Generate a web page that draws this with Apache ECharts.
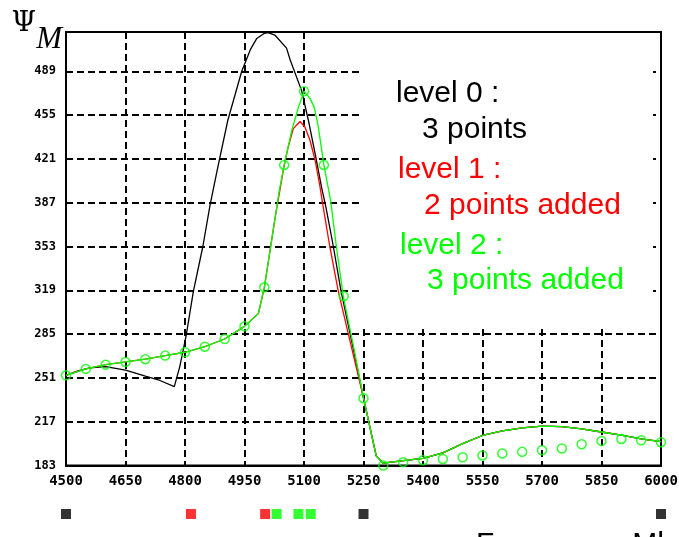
<!DOCTYPE html>
<html><head><meta charset="utf-8">
<script src="https://cdn.jsdelivr.net/npm/echarts@6/dist/echarts.min.js"></script>
<style>html,body{margin:0;padding:0;background:#fff}#c{width:679px;height:537px}</style>
</head><body><div id="c"></div>
<script>
// Axis ranges / ticks
const xMin = 4500, xMax = 6000, xStep = 150;
const yMin = 183, yMax = 519.5, yStep = 34;

// Level 0 (black) approximation, own part
const level0Head = [[4500,253],[4530,256.5],[4560,258.8],[4600,259.8],[4650,257],[4700,252.3],[4737,249],[4773,244.2],
  [4787,260],[4803,284],[4821,318],[4845,353],[4863,385],[4883,415],[4908,451],[4943,489],[4965,506],[4981,514.5],
  [5000,518.5],[5009,519],[5027,517],[5056,507],[5065,498],[5094,474],[5111,451],[5128,425],[5145,398],[5155,384],
  [5174,353],[5193,319],[5222,277]];
// Level 1 (red) approximation, own part
const level1Head = [[4500,253],[4550,258],[4600,261.3],[4650,263.4],[4700,265.5],[4750,268.3],[4800,270.9],[4850,275.2],
  [4900,281.2],[4950,291],[4985,301],[5000,321],[5027,375],[5050,416],[5060,430],[5073,444.5],[5090,450],[5102,446],
  [5115,435.5],[5128,420],[5140,400],[5145,390],[5165,353],[5186,319],[5218,277]];
// Level 2 (green) approximation, own part
const level2Head = [[4500,253],[4550,258],[4600,261.3],[4650,263.4],[4700,265.5],[4750,268.3],[4800,270.9],[4850,275.2],
  [4900,281.2],[4950,291],[4985,301],[5000,321.3],[5020,361],[5038,397],[5050,416.3],[5069,443],[5086,461],[5100,473.5],
  [5115,468],[5126,461],[5136,446],[5150,416.3],[5167,389],[5182,352],[5199,314.5],[5225,275]];
// Common tail of all three approximations
const sharedTail = [[5250,235.5],[5266,213],[5282,190.5],[5300,184.8],[5350,186.8],[5400,188.6],[5450,192.8],[5500,200],
  [5550,206.3],[5600,209.9],[5650,212.2],[5700,213.5],[5750,213.2],[5800,211.4],[5850,209],[5900,206.5],[5950,203.6],[6000,201.6]];
// Sampled function (green circles)
const sampleX = [4500,4550,4600,4650,4700,4750,4800,4850,4900,4950,5000,5050,5100,5150,5200,5250,5300,5350,5400,5450,5500,5550,5600,5650,5700,5750,5800,5850,5900,5950,6000];
const sampleY = [253,258,261.3,263.4,265.5,268.3,270.9,275.2,281.2,291,321.3,416.3,473.5,416.3,314.5,235.2,183,185.6,187.1,188.1,189.4,190.8,192.3,193.6,194.9,196.2,199.5,202.1,203.6,202.6,201.1];
// Knot positions for each level (squares below axis)
const level0Knots = [4500,5250,6000];
const level1Knots = [4815,5002];
const level2Knots = [5031,5086,5117];

const legendTexts = ['level 0 :', '3 points', 'level 1 :', '2 points added', 'level 2 :', '3 points added'];
const legendColors = ['#000000', '#000000', '#ff0000', '#ff0000', '#00ff00', '#00ff00'];

const chart = echarts.init(document.getElementById('c'));
const dash = {color:'#000', type:[7,4], width:2};
const lineSeries = (name, data, color) => ({
  name, type:'line', data, showSymbol:false, symbol:'none', smooth:false, z:3,
  lineStyle:{color, width:1.3}, itemStyle:{color}, animation:false
});
const knotSeries = (name, xs, color) => ({
  name, type:'scatter', xAxisIndex:1, yAxisIndex:1, data: xs.map(x=>[x,0]),
  symbol:'rect', symbolSize:10, itemStyle:{color}, animation:false
});

const legendY = [94, 130, 170, 206, 246, 281];
const legendX = [396, 422, 398, 424, 400, 427];
const tickFont = {color:'#000', fontFamily:'DejaVu Sans Mono', fontWeight:'bold'};

chart.setOption({
  animation:false,
  backgroundColor:'#fff',
  grid:[
    {left:66, right:18, top:32, bottom:71.5, show:true, borderColor:'#000', borderWidth:2,
     backgroundColor:'transparent', outerBoundsMode:'none', containLabel:false},
    {left:66, right:18, top:509, height:10, outerBoundsMode:'none', containLabel:false}
  ],
  xAxis:[
    {type:'value', gridIndex:0, min:xMin, max:xMax, interval:xStep,
     axisLine:{lineStyle:{color:'#000', width:2}}, axisTick:{show:false},
     axisLabel:Object.assign({fontSize:14, margin:9, formatter:v=>String(v)}, tickFont),
     splitLine:{show:true, lineStyle:dash},
     name:'Frequency, Mhz', nameLocation:'end', nameGap:-185,
     nameTextStyle:{fontFamily:'Liberation Sans', fontSize:30, color:'#000', align:'left', verticalAlign:'top', padding:[64,0,0,0]}
    },
    {type:'value', gridIndex:1, min:xMin, max:xMax, show:false}
  ],
  yAxis:[
    {type:'value', gridIndex:0, min:yMin, max:yMax, interval:yStep,
     axisLine:{show:true, lineStyle:{color:'#000', width:2}}, axisTick:{show:false},
     axisLabel:Object.assign({fontSize:12, margin:10, showMaxLabel:false, formatter:v=>String(v)}, tickFont),
     splitLine:{show:true, lineStyle:dash},
     name:'{a|Ψ}{b|M}', nameLocation:'end', nameGap:0,
     nameTextStyle:{align:'right', verticalAlign:'middle', padding:[0,4,0,0],
       rich:{
         a:{fontFamily:'DejaVu Serif', fontSize:28, color:'#000', verticalAlign:'top', lineHeight:46, padding:[1,0,0,0]},
         b:{fontFamily:'Liberation Serif', fontStyle:'italic', fontSize:31, color:'#000', verticalAlign:'bottom', lineHeight:46}
       }}
    },
    {type:'value', gridIndex:1, min:-1, max:1, show:false}
  ],
  graphic: [
    {type:'rect', z:1, shape:{x:362, y:33, width:291, height:293}, style:{fill:'#ffffff'}, silent:true}
  ].concat(legendTexts.map((t,i)=>({
    type:'text', z:2, x:legendX[i], y:legendY[i],
    style:{text:t, fill:legendColors[i], font:'30px "Liberation Sans"', verticalAlign:'middle'}
  }))),
  series:[
    lineSeries('level 0', level0Head.concat(sharedTail), '#000000'),
    lineSeries('level 1', level1Head.concat(sharedTail), '#ff0000'),
    lineSeries('level 2', level2Head.concat(sharedTail), '#00ff00'),
    {name:'samples', type:'scatter', data: sampleX.map((x,i)=>[x, sampleY[i]]), symbol:'circle', symbolSize:9,
     itemStyle:{color:'rgba(0,0,0,0)', borderColor:'#00ff00', borderWidth:1.5}, z:5, animation:false},
    knotSeries('level 0 knots', level0Knots, '#000000'),
    knotSeries('level 1 knots', level1Knots, '#ff0000'),
    knotSeries('level 2 knots', level2Knots, '#00ff00')
  ]
});
</script></body></html>
